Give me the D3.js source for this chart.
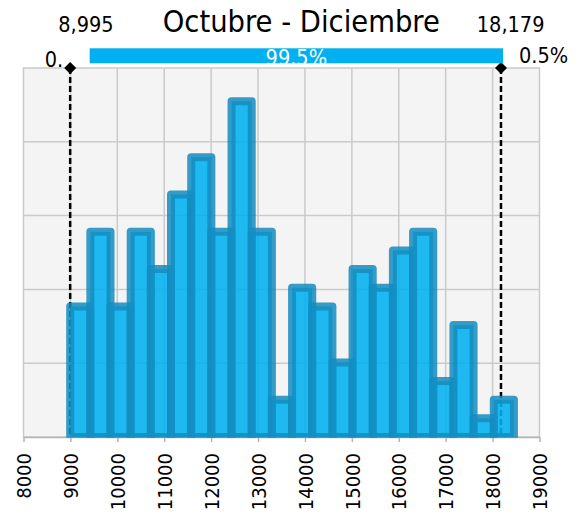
<!DOCTYPE html>
<html>
<head>
<meta charset="utf-8">
<script src="https://cdn.jsdelivr.net/npm/d3@7"></script>
<style>
  html, body { margin: 0; padding: 0; background: #ffffff; }
  svg { display: block; }
  text { font-family: "DejaVu Sans Condensed", "DejaVu Sans", sans-serif; }
</style>
</head>
<body>
<svg id="chart" width="583" height="521"></svg>
<script>
// ---- data ----
const chartTitle = "Octubre - Diciembre";
const binStart = 8995;          // lower edge of the first bin
const binWidth = 430;           // width of every bin
const binCounts = [7, 11, 7, 11, 9, 13, 15, 11, 18, 11, 2, 8, 7, 4, 9, 8, 10, 11, 3, 6, 1, 2];
const xTickValues = [8000, 9000, 10000, 11000, 12000, 13000, 14000, 15000, 16000, 17000, 18000, 19000];
const yGridValues = [0.00005, 0.0001, 0.00015, 0.0002];
const delimiterValues = [8995, 18179];
const delimiterLabels = ["8,995", "18,179"];
const regionLabels = ["0.", "99.5%", "0.5%"];

// ---- layout ----
const W = 583, H = 521;
const plot = { left: 23.5, right: 539.5, top: 68, bottom: 437 };

const svg = d3.select("#chart");
const x = d3.scaleLinear().domain([8000, 19000]).range([plot.left, plot.right]);
const y = d3.scaleLinear().domain([0, 0.00025]).range([plot.bottom, plot.top]);

const total = d3.sum(binCounts);
const bins = binCounts.map((c, i) => ({
  x0: binStart + i * binWidth,
  x1: binStart + (i + 1) * binWidth,
  density: c / (total * binWidth)
}));

// plot background
svg.append("rect")
  .attr("x", plot.left).attr("y", plot.top)
  .attr("width", plot.right - plot.left).attr("height", plot.bottom - plot.top)
  .attr("fill", "#f4f4f4");

// grid
const grid = svg.append("g").attr("stroke", "#cacaca").attr("stroke-width", 1.5);
grid.selectAll("line.v").data(xTickValues.slice(1, -1)).join("line")
  .attr("class", "v")
  .attr("x1", d => x(d)).attr("x2", d => x(d))
  .attr("y1", plot.top).attr("y2", plot.bottom);
grid.selectAll("line.h").data(yGridValues).join("line")
  .attr("class", "h")
  .attr("x1", plot.left).attr("x2", plot.right)
  .attr("y1", d => y(d)).attr("y2", d => y(d));

// frame
svg.append("rect")
  .attr("x", plot.left).attr("y", plot.top)
  .attr("width", plot.right - plot.left).attr("height", plot.bottom - plot.top)
  .attr("fill", "none").attr("stroke", "#cacaca").attr("stroke-width", 1.5);

// x axis
const xAxis = svg.append("g")
  .attr("transform", `translate(0,${plot.bottom})`)
  .call(d3.axisBottom(x).tickValues(xTickValues).tickSize(5).tickSizeOuter(0).tickFormat(d3.format("d")));
xAxis.select(".domain").attr("stroke", "#b4b4b4").attr("stroke-width", 1.5);
xAxis.selectAll(".tick line").attr("stroke", "#b4b4b4").attr("stroke-width", 1.5);
xAxis.selectAll(".tick text")
  .attr("transform", "rotate(-90)")
  .attr("text-anchor", "end")
  .attr("x", -16).attr("y", 0).attr("dy", "0.36em")
  .attr("fill", "#000")
  .style("font-family", '"DejaVu Sans Condensed", "DejaVu Sans", sans-serif')
  .style("font-size", "20px");

// delimiter lines
svg.append("g").selectAll("line").data(delimiterValues).join("line")
  .attr("x1", d => x(d)).attr("x2", d => x(d))
  .attr("y1", plot.top).attr("y2", plot.bottom)
  .attr("stroke", "#000").attr("stroke-width", 2.5)
  .attr("stroke-dasharray", "6,3");

// histogram bars
svg.append("clipPath").attr("id", "plotClip")
  .append("rect")
  .attr("x", plot.left).attr("y", plot.top)
  .attr("width", plot.right - plot.left).attr("height", plot.bottom - plot.top + 0.8);

svg.append("g").attr("clip-path", "url(#plotClip)")
  .selectAll("rect").data(bins).join("rect")
  .attr("x", d => x(d.x0))
  .attr("width", d => x(d.x1) - x(d.x0))
  .attr("y", d => y(d.density))
  .attr("height", d => y(0) - y(d.density))
  .attr("fill", "#00b0f0").attr("fill-opacity", 0.88)
  .attr("stroke", "#148cbe").attr("stroke-opacity", 0.85)
  .attr("stroke-width", 8).attr("stroke-linejoin", "round");

// delimiter markers
svg.append("g").selectAll("path").data(delimiterValues).join("path")
  .attr("d", d => `M${x(d)},${plot.top - 6}L${x(d) + 6},${plot.top}L${x(d)},${plot.top + 6}L${x(d) - 6},${plot.top}Z`)
  .attr("fill", "#000");

// probability band
const bandLeft = x(delimiterValues[0]) + 19.5;
const bandRight = x(delimiterValues[1]) + 2;
svg.append("rect")
  .attr("x", bandLeft).attr("y", 48.3)
  .attr("width", bandRight - bandLeft).attr("height", 15)
  .attr("fill", "#00b0f0");

svg.append("text")
  .attr("x", (bandLeft + bandRight) / 2).attr("y", 64.5)
  .attr("text-anchor", "middle").attr("fill", "#ffffff")
  .style("font-size", "21.5px")
  .text(regionLabels[1]);

svg.append("text")
  .attr("x", x(delimiterValues[0]) - 7).attr("y", 66.7)
  .attr("text-anchor", "end").attr("fill", "#000")
  .style("font-size", "21.5px")
  .text(regionLabels[0]);

svg.append("text")
  .attr("x", x(delimiterValues[1]) + 18).attr("y", 63.3)
  .attr("text-anchor", "start").attr("fill", "#000")
  .style("font-size", "21.5px")
  .text(regionLabels[2]);

// delimiter value labels
svg.append("g").selectAll("text").data(delimiterValues).join("text")
  .attr("x", d => x(d) + 43.5).attr("y", 31.5)
  .attr("text-anchor", "end").attr("fill", "#000")
  .style("font-size", "21.5px")
  .text((d, i) => delimiterLabels[i]);

// title
svg.append("text")
  .attr("x", 301.3).attr("y", 31.7)
  .attr("text-anchor", "middle").attr("fill", "#000")
  .style("font-size", "30.5px")
  .text(chartTitle);
</script>
</body>
</html>
